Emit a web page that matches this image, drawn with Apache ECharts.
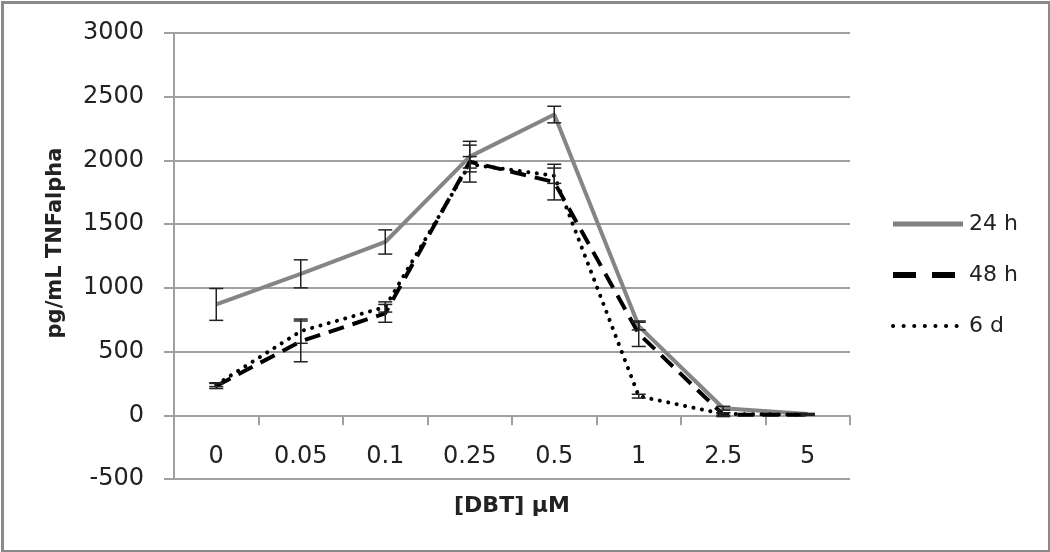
<!DOCTYPE html>
<html>
<head>
<meta charset="utf-8">
<script src="https://cdn.jsdelivr.net/npm/echarts@6/dist/echarts.min.js"></script>
<style>
html,body{margin:0;padding:0;background:#fff;}
#chart{width:1050px;height:552px;}
</style>
</head>
<body>
<div id="chart"></div>
<script>
const categories = ['0', '0.05', '0.1', '0.25', '0.5', '1', '2.5', '5'];
const yTicks = [-500, 0, 500, 1000, 1500, 2000, 2500, 3000];
const seriesNames = ['24 h', '48 h', '6 d'];
const h24 = [870, 1110, 1360, 2030, 2360, 700, 55, 10];
const h24Err = [125, 110, 95, 90, 65, 30, 15, 5];
const h48 = [230, 580, 800, 1990, 1830, 640, 5, 5];
const h48Err = [20, 160, 70, 160, 140, 100, 15, 5];
const d6 = [240, 660, 850, 1970, 1880, 150, 10, 5];
const d6Err = [15, 95, 40, 60, 60, 15, 10, 5];

const FONT = 'DejaVu Sans';

function errData(vals, errs) {
  return vals.map((v, i) => [i, v, errs[i]]);
}

function errRender(params, api) {
  const i = api.value(0), v = api.value(1), e = api.value(2);
  const top = api.coord([i, v + e]);
  const bot = api.coord([i, v - e]);
  const cap = 7;
  const style = { stroke: '#222', lineWidth: 1.5 };
  return {
    type: 'group',
    children: [
      { type: 'line', shape: { x1: top[0], y1: top[1], x2: bot[0], y2: bot[1] }, style },
      { type: 'line', shape: { x1: top[0] - cap, y1: top[1], x2: top[0] + cap, y2: top[1] }, style },
      { type: 'line', shape: { x1: bot[0] - cap, y1: bot[1], x2: bot[0] + cap, y2: bot[1] }, style }
    ]
  };
}

const chart = echarts.init(document.getElementById('chart'));
chart.setOption({
  animation: false,
  backgroundColor: '#fff',
  graphic: [{
    type: 'rect', left: 0, top: 0, silent: true,
    shape: { x: 1.5, y: 1.5, width: 1047, height: 549 },
    style: { fill: 'none', stroke: '#8a8a8a', lineWidth: 3 }
  }],
  grid: { left: 174, right: 200, top: 33, bottom: 73, containLabel: false, outerBoundsMode: 'none' },
  legend: {
    data: [
      { name: '24 h', lineStyle: { width: 5, color: '#808080', type: 'solid' } },
      { name: '48 h', lineStyle: { width: 6, color: '#000', type: [23, 16] } },
      { name: '6 d', lineStyle: { width: 4, color: '#000', type: [0.1, 10.5], cap: 'round' } }
    ],
    orient: 'vertical',
    left: 890,
    top: 213,
    padding: 0,
    itemWidth: 70,
    itemHeight: 24,
    itemGap: 29,
    itemStyle: { opacity: 0 },
    textStyle: { fontFamily: FONT, fontSize: 22, color: '#222', padding: [0, 0, 0, 1] }
  },
  xAxis: {
    type: 'category',
    data: categories,
    boundaryGap: true,
    name: '[DBT] µM',
    nameLocation: 'middle',
    nameGap: 16,
    nameTextStyle: { fontFamily: FONT, fontSize: 22, fontWeight: 'bold', color: '#222' },
    axisLine: { onZero: true, lineStyle: { color: '#a0a0a0', width: 2 } },
    axisTick: { show: true, interval: 0, length: 10, lineStyle: { color: '#a0a0a0', width: 2 } },
    axisLabel: { interval: 0, margin: -34, fontFamily: FONT, fontSize: 24, color: '#222' }
  },
  yAxis: {
    type: 'value',
    min: -500, max: 3000, interval: 500,
    name: 'pg/mL TNFalpha',
    nameLocation: 'middle',
    nameGap: 108,
    nameRotate: 90,
    nameTextStyle: { fontFamily: FONT, fontSize: 21, fontWeight: 'bold', color: '#222', padding: [0, 0, 0, 26] },
    axisLine: { show: true, lineStyle: { color: '#a0a0a0', width: 2 } },
    axisTick: { show: true, length: 10, lineStyle: { color: '#a0a0a0', width: 2 } },
    axisLabel: {
      margin: 30, fontFamily: FONT, fontSize: 24, color: '#222',
      formatter: v => (yTicks.indexOf(v) >= 0 ? String(v) : '')
    },
    splitLine: { show: true, lineStyle: { color: '#a0a0a0', width: 2 } }
  },
  series: [
    {
      name: '24 h', type: 'line', data: h24, symbol: 'none', z: 3,
      lineStyle: { color: '#858585', width: 4, type: 'solid' },
      itemStyle: { color: '#858585' }
    },
    {
      name: '48 h', type: 'line', data: h48, symbol: 'none', z: 4,
      lineStyle: { color: '#000', width: 4, type: [16, 9] },
      itemStyle: { color: '#000' }
    },
    {
      name: '6 d', type: 'line', data: d6, symbol: 'none', z: 5,
      lineStyle: { color: '#000', width: 4, type: [0.1, 8.5], cap: 'round' },
      itemStyle: { color: '#000' }
    },
    { name: 'err24', type: 'custom', renderItem: errRender, data: errData(h24, h24Err), encode: { x: 0, y: 1 }, z: 6, silent: true },
    { name: 'err48', type: 'custom', renderItem: errRender, data: errData(h48, h48Err), encode: { x: 0, y: 1 }, z: 6, silent: true },
    { name: 'err6', type: 'custom', renderItem: errRender, data: errData(d6, d6Err), encode: { x: 0, y: 1 }, z: 6, silent: true }
  ]
});
</script>
</body>
</html>
